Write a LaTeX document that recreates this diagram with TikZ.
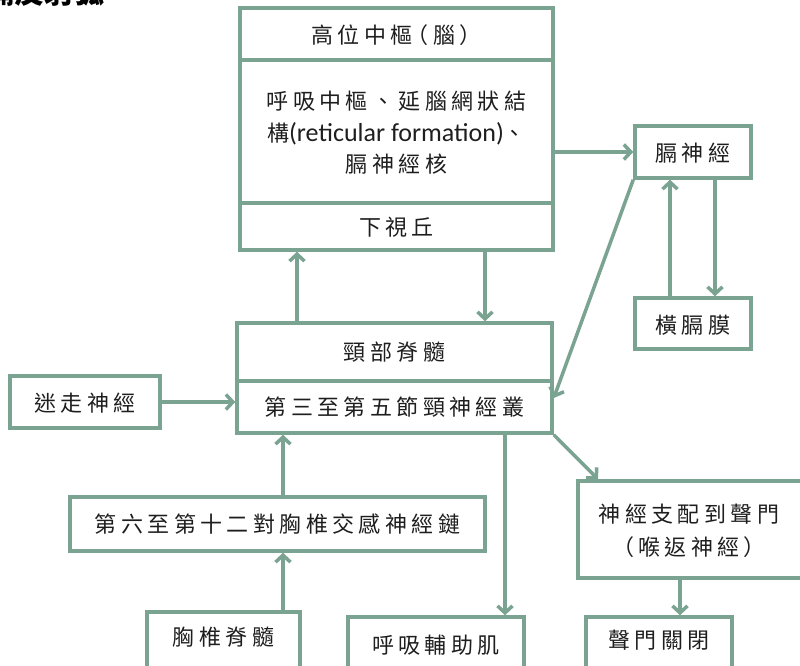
\documentclass[tikz,border=0pt]{standalone}
\usepackage{fontspec}
\newfontfamily\cjk{Noto Sans CJK TC}[LetterSpace=20]
\newfontfamily\cjkplain{Noto Sans CJK TC}
\newfontfamily\latinf{Carlito}
\usetikzlibrary{arrows.meta}
\definecolor{gc}{RGB}{122,163,146}
\definecolor{tc}{RGB}{30,30,30}
\tikzset{
  box/.style={draw=gc, line width=3.5pt, inner sep=0pt},
  lbl/.style={text=tc, font=\cjk\fontsize{22}{26}\selectfont, inner sep=0pt},
  arr/.style={draw=gc, line width=3.5pt, -{Straight Barb[length=7pt,width=15pt]}}
}
\begin{document}
\begin{tikzpicture}[x=1pt,y=-1pt]
\useasboundingbox (0,0) rectangle (800,665);
% title (cut off at the top edge, as in the reference)
\node[anchor=base west, inner sep=0pt, text=black, font=\cjkplain\bfseries\fontsize{30}{30}\selectfont] (title) at (-46,3) {打嗝反射弧};
% top box
\node[box, minimum width=313pt, minimum height=52pt] (top1) at (396.5,34) {};
\node[box, minimum width=313pt, minimum height=143pt] (top2) at (396.5,131.5) {};
\node[box, minimum width=313pt, minimum height=47pt] (top3) at (396.5,226.5) {};
\node[lbl] (top1t) at (396.5,35) {高位中樞\kern-6pt（腦）};
\node[lbl, align=center, font=\cjk\fontsize{22}{31.5}\selectfont] (top2t) at (396.5,133) {呼吸中樞、延腦網狀結\\構{\latinf\fontsize{26}{26}\selectfont(reticular formation)}、\\膈神經核};
\node[lbl] (top3t) at (396.5,227) {下視丘};
% right boxes
\node[box, minimum width=116pt, minimum height=52pt] (geshen) at (693,152) {};
\node[lbl] (geshent) at (693,153) {膈神經};
\node[box, minimum width=116pt, minimum height=51pt] (hengge) at (693,323.5) {};
\node[lbl] (henggett) at (693,325) {橫膈膜};
% neck box
\node[box, minimum width=315pt, minimum height=58pt] (neck1) at (394.5,352) {};
\node[box, minimum width=315pt, minimum height=52pt] (neck2) at (394.5,407) {};
\node[lbl] (neck1t) at (394.5,352) {頸部脊髓};
\node[lbl] (neck2t) at (394.5,407) {第三至第五節頸神經叢};
% vagus
\node[box, minimum width=150pt, minimum height=52pt] (mizou) at (85,402) {};
\node[lbl] (mizout) at (85,403) {迷走神經};
% thoracic chain
\node[box, minimum width=415pt, minimum height=54pt] (t6) at (277.5,524) {};
\node[lbl] (t6t) at (277.5,524) {第六至第十二對胸椎交感神經鏈};
% bottom boxes
\node[box, minimum width=153pt, minimum height=66pt] (xiongzhui) at (223.5,645) {};
\node[lbl] (xiongzhuit) at (223.5,637) {胸椎脊髓};
\node[box, minimum width=176pt, minimum height=62pt] (huxi) at (436,648) {};
\node[lbl] (huxit) at (436,645) {呼吸輔助肌};
\node[box, minimum width=242pt, minimum height=97pt] (zhipei) at (699,529.5) {};
\node[lbl, align=center, font=\cjk\fontsize{22}{33}\selectfont] (zhipeit) at (689,531) {神經支配到聲門\\（喉返神經）};
\node[box, minimum width=146pt, minimum height=63pt] (shengmen) at (659,648.5) {};
\node[lbl] (shengment) at (659,640) {聲門關閉};
% x positions
\coordinate (x297) at (297,0);
\coordinate (x485) at (485,0);
\coordinate (x670) at (670,0);
\coordinate (x715) at (715,0);
\coordinate (x283) at (283,0);
\coordinate (x505) at (505,0);
\coordinate (x598) at (598,0);
\coordinate (x680) at (680,0);
\coordinate (y398) at (0,398);
% connectors
\draw[arr] (top2.east |- geshen.west) -- (geshen.west);
\draw[arr] (geshen.south -| x715) -- (hengge.north -| x715);
\draw[arr] (hengge.north -| x670) -- (geshen.south -| x670);
\draw[arr] (geshen.south west) -- (neck2.east |- y398);
\draw[arr] (neck1.north -| x297) -- (top3.south -| x297);
\draw[arr] (top3.south -| x485) -- (neck1.north -| x485);
\draw[arr] (mizou.east) -- (mizou.east -| neck2.west);
\draw[arr] (t6.north -| x283) -- (neck2.south -| x283);
\draw[arr] (xiongzhui.north -| x283) -- (t6.south -| x283);
\draw[arr] (neck2.south -| x505) -- (huxi.north -| x505);
\draw[arr] (neck2.south east) -- (zhipei.north -| x598);
\draw[arr] (zhipei.south -| x680) -- (shengmen.north -| x680);
\end{tikzpicture}
\end{document}
